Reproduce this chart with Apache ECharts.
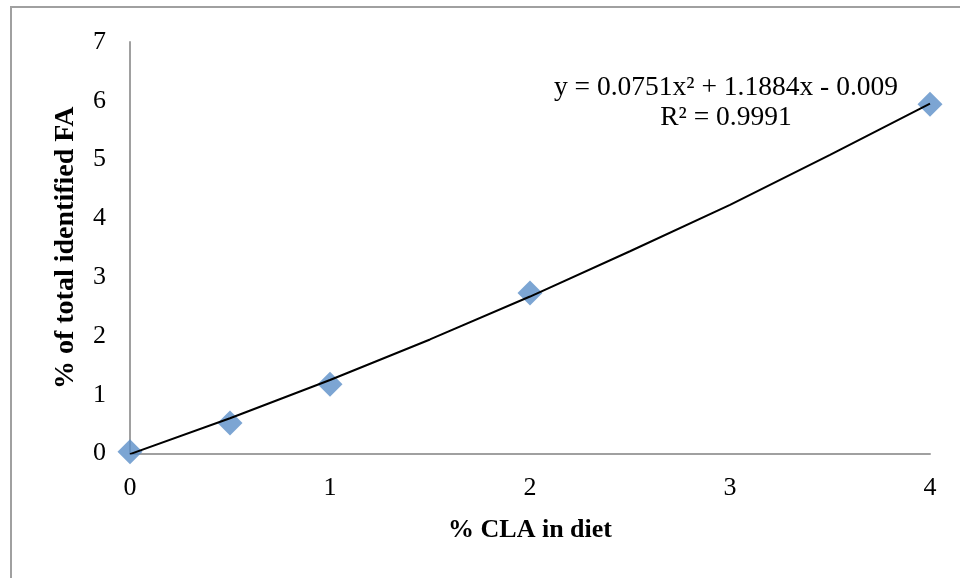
<!DOCTYPE html>
<html>
<head>
<meta charset="utf-8">
<script src="https://cdn.jsdelivr.net/npm/echarts@6/dist/echarts.min.js"></script>
<style>html,body{margin:0;padding:0;background:#fff;}#c{width:960px;height:578px;}</style>
</head>
<body>
<div id="c"></div>
<script>
// Observed data (% CLA in diet vs % of total identified FA)
var dietCLA = [0, 0.5, 1, 2, 4];
var identifiedFA = [0.03, 0.52, 1.18, 2.73, 5.94];
// Trendline points read along the drawn polynomial trendline
var trendX = [0, 0.5, 1, 1.5, 2, 2.5, 3, 3.5, 4];
var trendY = [-0.01, 0.60, 1.25, 1.94, 2.67, 3.44, 4.23, 5.08, 5.95];
var xTicks = [0, 1, 2, 3, 4];
var yTicks = [0, 1, 2, 3, 4, 5, 6, 7];
var eqLine1 = 'y = 0.0751x² + 1.1884x - 0.009';
var eqLine2 = 'R² = 0.9991';

var serif = '"Liberation Serif", "DejaVu Serif", serif';
var chart = echarts.init(document.getElementById('c'), null, {renderer: 'canvas'});
var pts = dietCLA.map(function (x, i) { return [x, identifiedFA[i]]; });
var tr = trendX.map(function (x, i) { return [x, trendY[i]]; });
chart.setOption({
  animation: false,
  backgroundColor: '#ffffff',
  grid: {left: 130, right: 30, top: 42, bottom: 124.5, containLabel: false},
  xAxis: {
    type: 'value', min: xTicks[0], max: xTicks[xTicks.length - 1], interval: 1,
    axisLine: {show: true, lineStyle: {color: '#a0a0a0', width: 2}},
    axisTick: {show: false},
    splitLine: {show: false},
    axisLabel: {color: '#000', fontFamily: serif, fontSize: 26, margin: 22},
    name: '% CLA in diet', nameLocation: 'middle', nameGap: 64,
    nameTextStyle: {color: '#000', fontFamily: serif, fontSize: 26, fontWeight: 'bold'}
  },
  yAxis: {
    type: 'value', min: yTicks[0], max: yTicks[yTicks.length - 1], interval: 1,
    axisLine: {show: true, lineStyle: {color: '#a0a0a0', width: 2}},
    axisTick: {show: false},
    splitLine: {show: false},
    axisLabel: {color: '#000', fontFamily: serif, fontSize: 26, margin: 24},
    name: '% of total identified FA', nameLocation: 'middle', nameGap: 50,
    nameTextStyle: {color: '#000', fontFamily: serif, fontSize: 28, fontWeight: 'bold'}
  },
  series: [
    {
      type: 'scatter', data: pts, symbol: 'diamond', symbolSize: 25,
      itemStyle: {color: '#5b8fc8'}, z: 2
    },
    {
      type: 'line', data: tr, showSymbol: false, symbol: 'none',
      lineStyle: {color: '#000', width: 2}, z: 3
    }
  ],
  graphic: [
    {type: 'rect', shape: {x: 11, y: 7, width: 980, height: 600}, style: {fill: 'none', stroke: '#a0a0a0', lineWidth: 2}, z: 0, silent: true},
    {type: 'text', x: 726, y: 88, style: {text: eqLine1, fontFamily: serif, fontSize: 27.5, fill: '#000', textAlign: 'center', textVerticalAlign: 'middle'}, z: 10},
    {type: 'text', x: 726, y: 118, style: {text: eqLine2, fontFamily: serif, fontSize: 27.5, fill: '#000', textAlign: 'center', textVerticalAlign: 'middle'}, z: 10}
  ]
});
</script>
</body>
</html>
